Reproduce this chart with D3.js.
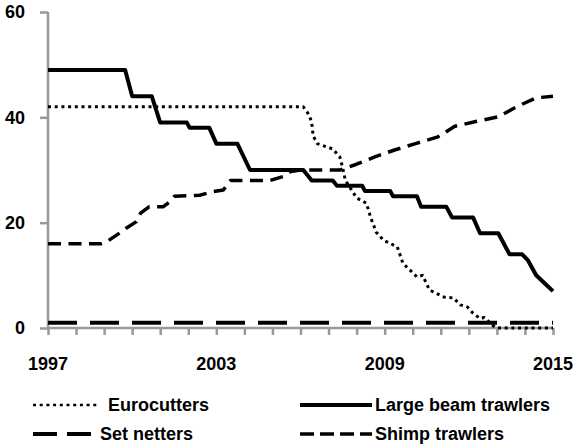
<!DOCTYPE html>
<html>
<head>
<meta charset="utf-8">
<script src="https://cdn.jsdelivr.net/npm/d3@7"></script>
<style>
  body { margin: 0; background: #fff; }
  svg { display: block; }
  text { font-family: "Liberation Sans", Arial, sans-serif; font-weight: bold; fill: #000; }
</style>
</head>
<body>
<svg width="578" height="447"></svg>
<script>
// values, [year, count]
var eurocutters = [
  [1997, 42], [2006.0, 42], [2006.1, 42], [2006.3, 40.5], [2006.4, 39], [2006.45, 36.5],
  [2006.6, 35], [2007.15, 34], [2007.4, 32.5], [2007.5, 30.5], [2007.6, 28], [2007.75, 26.8],
  [2008.0, 24.7], [2008.35, 23.7], [2008.5, 21], [2008.7, 18.2], [2008.95, 16.7], [2009.45, 15.4],
  [2009.65, 12.3], [2010.15, 9.7], [2010.35, 10], [2010.6, 7.2], [2011.1, 5.9], [2011.45, 5.7],
  [2011.7, 4.4], [2011.95, 4], [2012.15, 2.8], [2012.4, 1.8], [2012.55, 2], [2012.85, 0.5],
  [2013.0, 0], [2015, 0]
];

var largeBeam = [
  [1997, 49], [1999.75, 49], [2000.0, 44], [2000.7, 44], [2001.0, 39], [2001.95, 39],
  [2002.05, 38], [2002.75, 38], [2003.0, 35], [2003.75, 35], [2004.2, 30], [2006.1, 30],
  [2006.4, 28], [2007.15, 28], [2007.3, 27], [2008.2, 27], [2008.3, 26], [2009.2, 26],
  [2009.3, 25], [2010.15, 25], [2010.3, 23], [2011.2, 23], [2011.4, 21], [2012.15, 21],
  [2012.4, 18], [2013.05, 18], [2013.45, 14], [2013.9, 14], [2014.1, 12.9], [2014.4, 10],
  [2014.7, 8.5], [2015, 7]
];

var setNetters = [
  [1997, 1], [2015, 1]
];

var shrimp = [
  [1997, 16], [1998.9, 16], [1999.1, 16.4], [1999.6, 18.2], [1999.8, 19], [2000.15, 20.2],
  [2000.3, 21.8], [2000.6, 23], [2001.1, 23], [2001.35, 24], [2001.5, 25], [2002.4, 25.2],
  [2002.9, 25.9], [2003.25, 26.2], [2003.5, 28], [2004.9, 28], [2005.4, 28.8], [2005.65, 29.7],
  [2006, 30], [2007.4, 30], [2007.95, 31], [2008.65, 32.5], [2009.35, 33.8], [2010.1, 35],
  [2010.9, 36.3], [2011.5, 38.3], [2012.25, 39.2], [2013.05, 40.1], [2013.7, 42], [2014.4, 43.7],
  [2015, 44]
];

var yTicks = [0, 20, 40, 60];
var xTickLabels = [1997, 2003, 2009, 2015];
var seriesNames = ["Eurocutters", "Large beam trawlers", "Set netters", "Shimp trawlers"];

var svg = d3.select("svg");

var x = d3.scaleLinear().domain([1997, 2015]).range([48, 553]);
var y = d3.scaleLinear().domain([0, 60]).range([328, 12]);

var axisColor = "#999";

// axes
var xAxis = d3.axisBottom(x)
  .tickValues(d3.range(1997, 2016))
  .tickSize(7)
  .tickFormat("");
var gx = svg.append("g").attr("transform", "translate(0,328)").call(xAxis);

var yAxis = d3.axisLeft(y)
  .tickValues(yTicks)
  .tickSize(8)
  .tickFormat("");
var gy = svg.append("g").attr("transform", "translate(48,0)").call(yAxis);

[gx, gy].forEach(function(g) {
  g.select(".domain").attr("stroke", axisColor).attr("stroke-width", 2.5);
  g.selectAll(".tick line").attr("stroke", axisColor).attr("stroke-width", 2.5);
});
gx.select(".domain").attr("d", "M48,0H553");
gy.select(".domain").attr("d", "M0,12V328");

// tick labels
svg.append("g").selectAll("text")
  .data(yTicks)
  .enter().append("text")
  .attr("x", 25)
  .attr("y", function(d) { return y(d); })
  .attr("dy", "0.36em")
  .attr("text-anchor", "end")
  .attr("font-size", 18)
  .text(function(d) { return d; });

svg.append("g").selectAll("text")
  .data(xTickLabels)
  .enter().append("text")
  .attr("x", function(d) { return x(d); })
  .attr("y", 370)
  .attr("text-anchor", "middle")
  .attr("font-size", 18)
  .text(function(d) { return d; });

var styles = [
  { data: eurocutters, width: 3, dash: "3,3.7" },
  { data: largeBeam, width: 4, dash: null },
  { data: setNetters, width: 4, dash: "29,13" },
  { data: shrimp, width: 3.5, dash: "13,7.5" }
];

var line = d3.line()
  .x(function(d) { return x(d[0]); })
  .y(function(d) { return y(d[1]); });

// set netters first so the others sit above
[2, 3, 0, 1].forEach(function(i) {
  var s = styles[i];
  svg.append("path")
    .datum(s.data)
    .attr("fill", "none")
    .attr("stroke", "#000")
    .attr("stroke-width", s.width)
    .attr("stroke-dasharray", s.dash)
    .attr("stroke-linejoin", "round")
    .attr("d", line);
});

// legend
var legendPos = [
  { x: 33, y: 405 },
  { x: 300, y: 405 },
  { x: 33, y: 434 },
  { x: 300, y: 434 }
];
var legendDash = ["3,3.7", null, "24,10", "14,6"];

seriesNames.forEach(function(name, i) {
  var p = legendPos[i];
  var len = i % 2 === 0 ? 65 : 72;
  svg.append("line")
    .attr("x1", p.x).attr("x2", p.x + len)
    .attr("y1", p.y).attr("y2", p.y)
    .attr("stroke", "#000")
    .attr("stroke-width", i === 0 ? 2.5 : styles[i].width)
    .attr("stroke-dasharray", legendDash[i]);
  svg.append("text")
    .attr("x", i === 0 ? 108 : (i === 2 ? 100 : 375))
    .attr("y", p.y)
    .attr("dy", "0.36em")
    .attr("font-size", 18)
    .text(name);
});
</script>
</body>
</html>
